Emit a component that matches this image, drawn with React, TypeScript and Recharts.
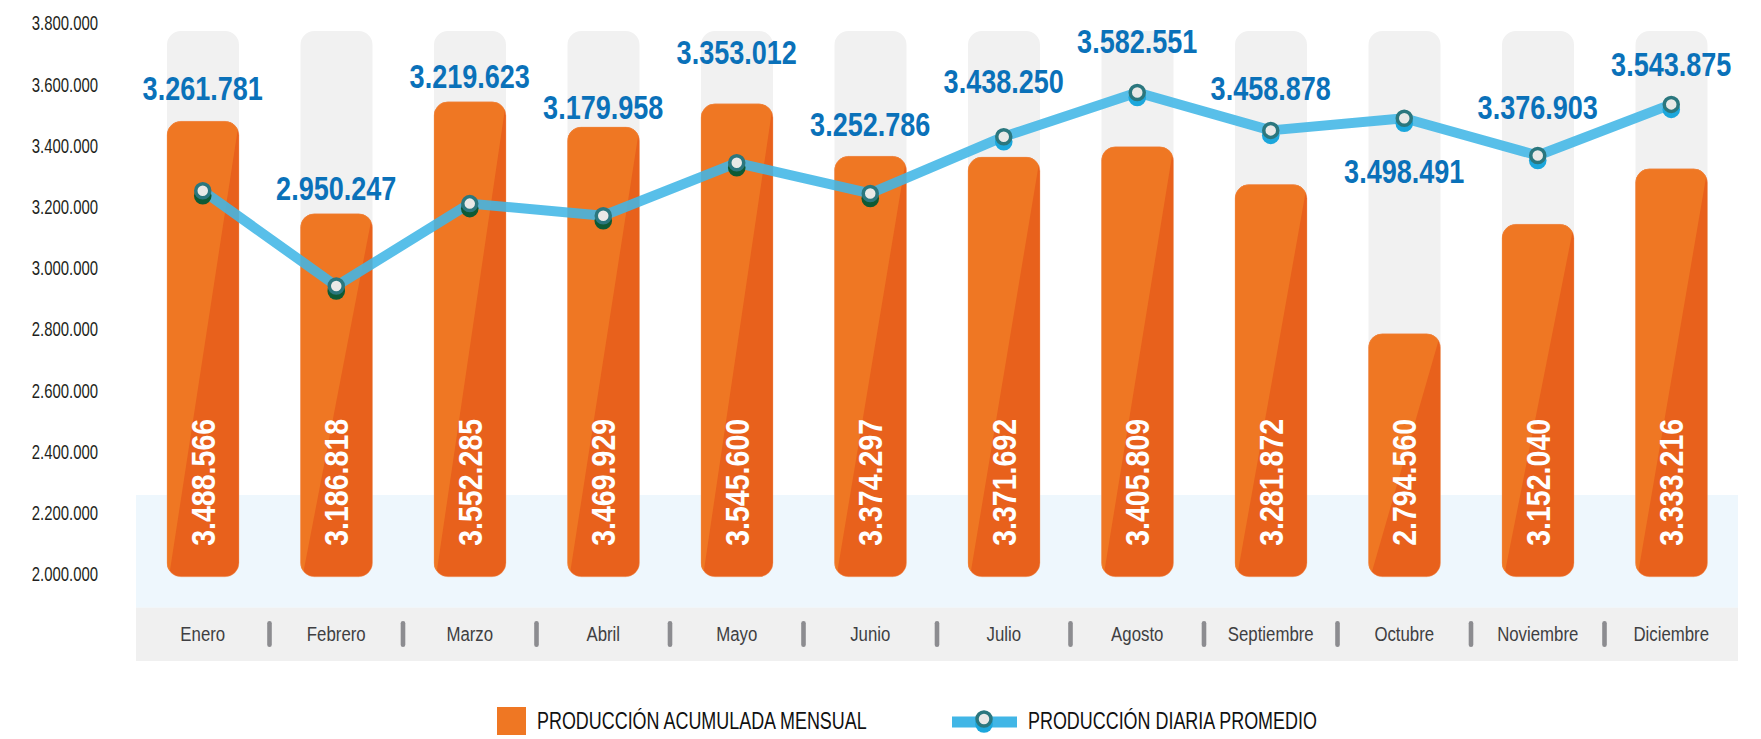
import React from 'react';
import {
  ComposedChart,
  Bar,
  Line,
  XAxis,
  YAxis,
  ReferenceArea,
  LabelList,
  Legend,
} from 'recharts';

// ---------- data ----------
const months = [
  'Enero', 'Febrero', 'Marzo', 'Abril', 'Mayo', 'Junio',
  'Julio', 'Agosto', 'Septiembre', 'Octubre', 'Noviembre', 'Diciembre',
];
const monthlyProduction = [
  3488566, 3186818, 3552285, 3469929, 3545600, 3374297,
  3371692, 3405809, 3281872, 2794560, 3152040, 3333216,
];
const dailyAverage = [
  3261781, 2950247, 3219623, 3179958, 3353012, 3252786,
  3438250, 3582551, 3458878, 3498491, 3376903, 3543875,
];
const yTicks = [
  2000000, 2200000, 2400000, 2600000, 2800000,
  3000000, 3200000, 3400000, 3600000, 3800000,
];
const legendLabels = ['PRODUCCIÓN ACUMULADA MENSUAL', 'PRODUCCIÓN DIARIA PROMEDIO'];

// ---------- layout / style constants ----------
const W = 1761;
const H = 739;
const BAR_BASE = 2000000;
const TRACK_TOP = 3784000;
const Y_DOMAIN: [number, number] = [1725000, 3800000];
const BLUE_BAND: [number, number] = [1898700, 2267800];
const GRAY_BAND: [number, number] = [1725000, 1898700];
const LINE_LABEL_DY = [-102, -98, -127, -108, -110, -69, -55, -51, -42, 53, -48, -40];
const PAD_L = 16;
const PAD_R = 23;
const Y_AXIS_W = 120;
const STEP = (W - Y_AXIS_W - PAD_L - PAD_R) / months.length;

const FONT = "'Liberation Sans', Arial, Helvetica, sans-serif";
const ORANGE_LIGHT = '#EF7723';
const ORANGE_DARK = '#E8611C';
const TRACK = '#F1F1F1';
const LINE_BLUE = '#41B6E6';
const LABEL_BLUE = '#0A71B9';
const SHADOW_BLUE = '#1CA7DC';
const SHADOW_GREEN = '#0E5A34';

const fmt = (n: number) => String(n).replace(/\B(?=(\d{3})+(?!\d))/g, '.');

const data = months.map((m, i) => ({
  month: m,
  monthly: monthlyProduction[i],
  daily: dailyAverage[i],
}));

// condensed text: a regular font squeezed horizontally
function CText(props: {
  x: number; y: number; sx: number; size: number; anchor?: string; weight?: string;
  fill: string; rotate?: number; children: React.ReactNode;
}) {
  const { x, y, sx, size, anchor = 'start', weight = 'normal', fill, rotate = 0, children } = props;
  return (
    <text
      transform={`translate(${x},${y}) rotate(${rotate}) scale(${sx},1)`}
      textAnchor={anchor}
      dy="0.35em"
      fill={fill}
      fontFamily={FONT}
      fontWeight={weight}
      fontSize={size}
    >
      {children}
    </text>
  );
}

function roundedRect(x: number, y: number, w: number, h: number, r: number) {
  const rr = Math.min(r, w / 2, h / 2);
  return `M${x + rr},${y} H${x + w - rr} A${rr},${rr} 0 0 1 ${x + w},${y + rr} V${y + h - rr} A${rr},${rr} 0 0 1 ${x + w - rr},${y + h} H${x + rr} A${rr},${rr} 0 0 1 ${x},${y + h - rr} V${y + rr} A${rr},${rr} 0 0 1 ${x + rr},${y} Z`;
}

function TrackShape(props: any) {
  let { x, y, width, height } = props;
  if (height < 0) { y += height; height = -height; }
  return <path d={roundedRect(x, y, width, height, 14)} fill={TRACK} />;
}

function OrangeBar(props: any) {
  let { x, y, width, height, index } = props;
  if (height < 0) { y += height; height = -height; }
  const d = roundedRect(x, y, width, height, 14);
  const id = `bar-clip-${index}`;
  const cx = x + width / 2;
  const ty = y + height - 31;
  return (
    <g>
      <defs>
        <clipPath id={id}>
          <path d={d} />
        </clipPath>
      </defs>
      <path d={d} fill={ORANGE_DARK} />
      <polygon
        points={`${x},${y} ${x + width},${y} ${x + 2},${y + height} ${x},${y + height}`}
        fill={ORANGE_LIGHT}
        clipPath={`url(#${id})`}
      />
      <path d={d} fill="none" stroke="#F4A36E" strokeOpacity={0.35} strokeWidth={1} />
      <CText x={cx} y={ty} sx={0.84} size={34} weight="bold" fill="#FFFFFF" rotate={-90}>
        {fmt(monthlyProduction[index])}
      </CText>
    </g>
  );
}

function LineDot(props: any) {
  const { cx, cy, index } = props;
  if (cx == null || cy == null) return <g key={`dot-${index}`} />;
  const overBar = dailyAverage[index] < monthlyProduction[index];
  return (
    <g key={`dot-${index}`}>
      <circle cx={cx} cy={cy + 5} r={8.8} fill={overBar ? SHADOW_GREEN : SHADOW_BLUE} />
      <circle cx={cx} cy={cy} r={7} fill="#E9E9E7" stroke="#2B777E" strokeWidth={3.5} />
    </g>
  );
}

function LineLabel(props: any) {
  const { x, y, index } = props;
  return (
    <CText x={x} y={y + LINE_LABEL_DY[index]} sx={0.82} size={33} weight="bold" anchor="middle" fill={LABEL_BLUE}>
      {fmt(dailyAverage[index])}
    </CText>
  );
}

function YTick(props: any) {
  const { x, y, payload } = props;
  return (
    <CText x={x} y={y - 3} sx={0.71} size={21} anchor="end" fill="#231F20">
      {fmt(payload.value)}
    </CText>
  );
}

function XTick(props: any) {
  const { x, y, payload, index } = props;
  const ly = y - 27;
  return (
    <g>
      {index > 0 && (
        <rect x={x - STEP / 2 - 2.3} y={ly - 13} width={4.6} height={26} rx={2.3} fill="#8C8C90" />
      )}
      <CText x={x} y={ly} sx={0.8} size={21} anchor="middle" fill="#3F3F42">
        {payload.value}
      </CText>
    </g>
  );
}

function LegendContent() {
  return (
    <svg width={W} height={39} style={{ display: 'block' }}>
      <rect x={497} y={7} width={29} height={28} fill={ORANGE_LIGHT} />
      <CText x={537} y={21} sx={0.78} size={23} fill="#111111">
        {legendLabels[0]}
      </CText>
      <rect x={952} y={16.5} width={65} height={11} fill={LINE_BLUE} />
      <circle cx={984} cy={24} r={8.8} fill={SHADOW_BLUE} />
      <circle cx={984} cy={19} r={7} fill="#E9E9E7" stroke="#2B777E" strokeWidth={3.5} />
      <CText x={1028} y={21} sx={0.78} size={23} fill="#111111">
        {legendLabels[1]}
      </CText>
    </svg>
  );
}

export default function App() {
  return (
    <div style={{ position: 'absolute', left: 0, top: 0, width: W, height: H, background: '#FFFFFF' }}>
      <ComposedChart
        width={W}
        height={H}
        data={data}
        margin={{ top: 26, right: 0, bottom: 48, left: 0 }}
        barSize={72}
        barGap={-72}
      >
        <ReferenceArea y1={BLUE_BAND[0]} y2={BLUE_BAND[1]} fill="#EEF7FD" fillOpacity={1} stroke="none" ifOverflow="visible" />
        <ReferenceArea y1={GRAY_BAND[0]} y2={GRAY_BAND[1]} fill="#F0F0F0" fillOpacity={1} stroke="none" ifOverflow="visible" />
        <XAxis
          dataKey="month"
          axisLine={false}
          tickLine={false}
          tickSize={0}
          tickMargin={0}
          height={30}
          padding={{ left: PAD_L, right: PAD_R }}
          interval={0}
          tick={<XTick />}
        />
        <YAxis
          domain={Y_DOMAIN}
          allowDataOverflow
          ticks={yTicks}
          width={Y_AXIS_W}
          axisLine={false}
          tickLine={false}
          tickSize={0}
          tickMargin={22}
          tick={<YTick />}
        />
        <Bar
          dataKey={() => [BAR_BASE, TRACK_TOP]}
          shape={<TrackShape />}
          isAnimationActive={false}
          legendType="none"
        />
        <Bar
          dataKey={(d: any) => [BAR_BASE, d.monthly]}
          name={legendLabels[0]}
          shape={<OrangeBar />}
          isAnimationActive={false}
        />
        <Line
          dataKey="daily"
          name={legendLabels[1]}
          stroke={LINE_BLUE}
          strokeWidth={10}
          strokeOpacity={0.88}
          strokeLinejoin="round"
          dot={(p: any) => <LineDot key={`d-${p.index}`} {...p} />}
          activeDot={false}
          isAnimationActive={false}
        >
          <LabelList dataKey="daily" content={<LineLabel />} />
        </Line>
        <Legend
          layout="horizontal"
          verticalAlign="middle"
          align="center"
          content={<LegendContent />}
          wrapperStyle={{ left: 0, top: 700, width: W, height: 39 }}
        />
      </ComposedChart>
    </div>
  );
}
